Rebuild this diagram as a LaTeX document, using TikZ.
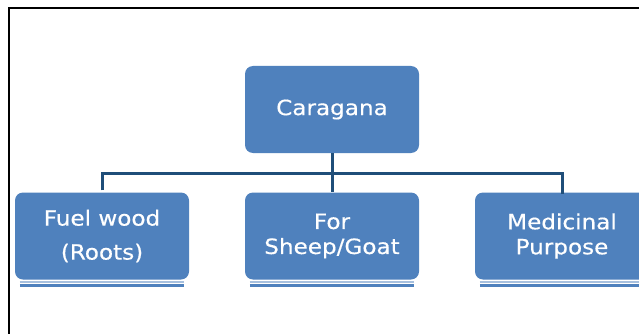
\documentclass[tikz,border=0pt]{standalone}
\usepackage{fontspec}
\setmainfont[FakeStretch=1.1,FakeBold=0.4]{DejaVu Sans}
\definecolor{boxblue}{RGB}{79,129,189}
\definecolor{lineblue}{RGB}{31,78,121}
\definecolor{paleblue}{RGB}{167,192,222}
\begin{document}
\begin{tikzpicture}[x=1pt,y=-1pt,
  box/.style={draw=none,fill=boxblue,rounded corners=8pt,minimum width=174pt,minimum height=87pt,
    text=white,align=center,inner sep=0pt,font=\fontsize{21}{25}\selectfont},
  conn/.style={draw=lineblue,line width=3pt},
  shadowpale/.style={draw=paleblue,line width=1.8pt},
  shadowdark/.style={draw=boxblue,line width=2.6pt}]
\useasboundingbox (0,0) rectangle (639,334);
\clip (0,0) rectangle (639,334);
\fill[white] (0,0) rectangle (639,334);
\draw[line width=2.2pt,black] (9,334) -- (9,8) -- (639,8);
\node[box] (root) at (332,109.5) {Caragana};
\node[box,font=\fontsize{21}{34}\selectfont] (fuel) at (102,236) {Fuel wood\\(Roots)};
\node[box] (sheep) at (332,236) {For\\Sheep/Goat};
\node[box] (med) at (562,236) {Medicinal\\Purpose};
\coordinate (bar) at (332,173);
\foreach \n in {fuel,sheep,med}{
  \draw[shadowpale] ([xshift=5pt,yshift=-2.5pt]\n.south west) -- ([xshift=-5pt,yshift=-2.5pt]\n.south east);
  \draw[shadowdark] ([xshift=5pt,yshift=-6pt]\n.south west) -- ([xshift=-5pt,yshift=-6pt]\n.south east);
}
\draw[conn] (root.south) -- (sheep.north);
\draw[conn,shorten <=2pt] (fuel.north) |- (bar) -| ([yshift=-2pt]med.north);
\end{tikzpicture}
\end{document}
